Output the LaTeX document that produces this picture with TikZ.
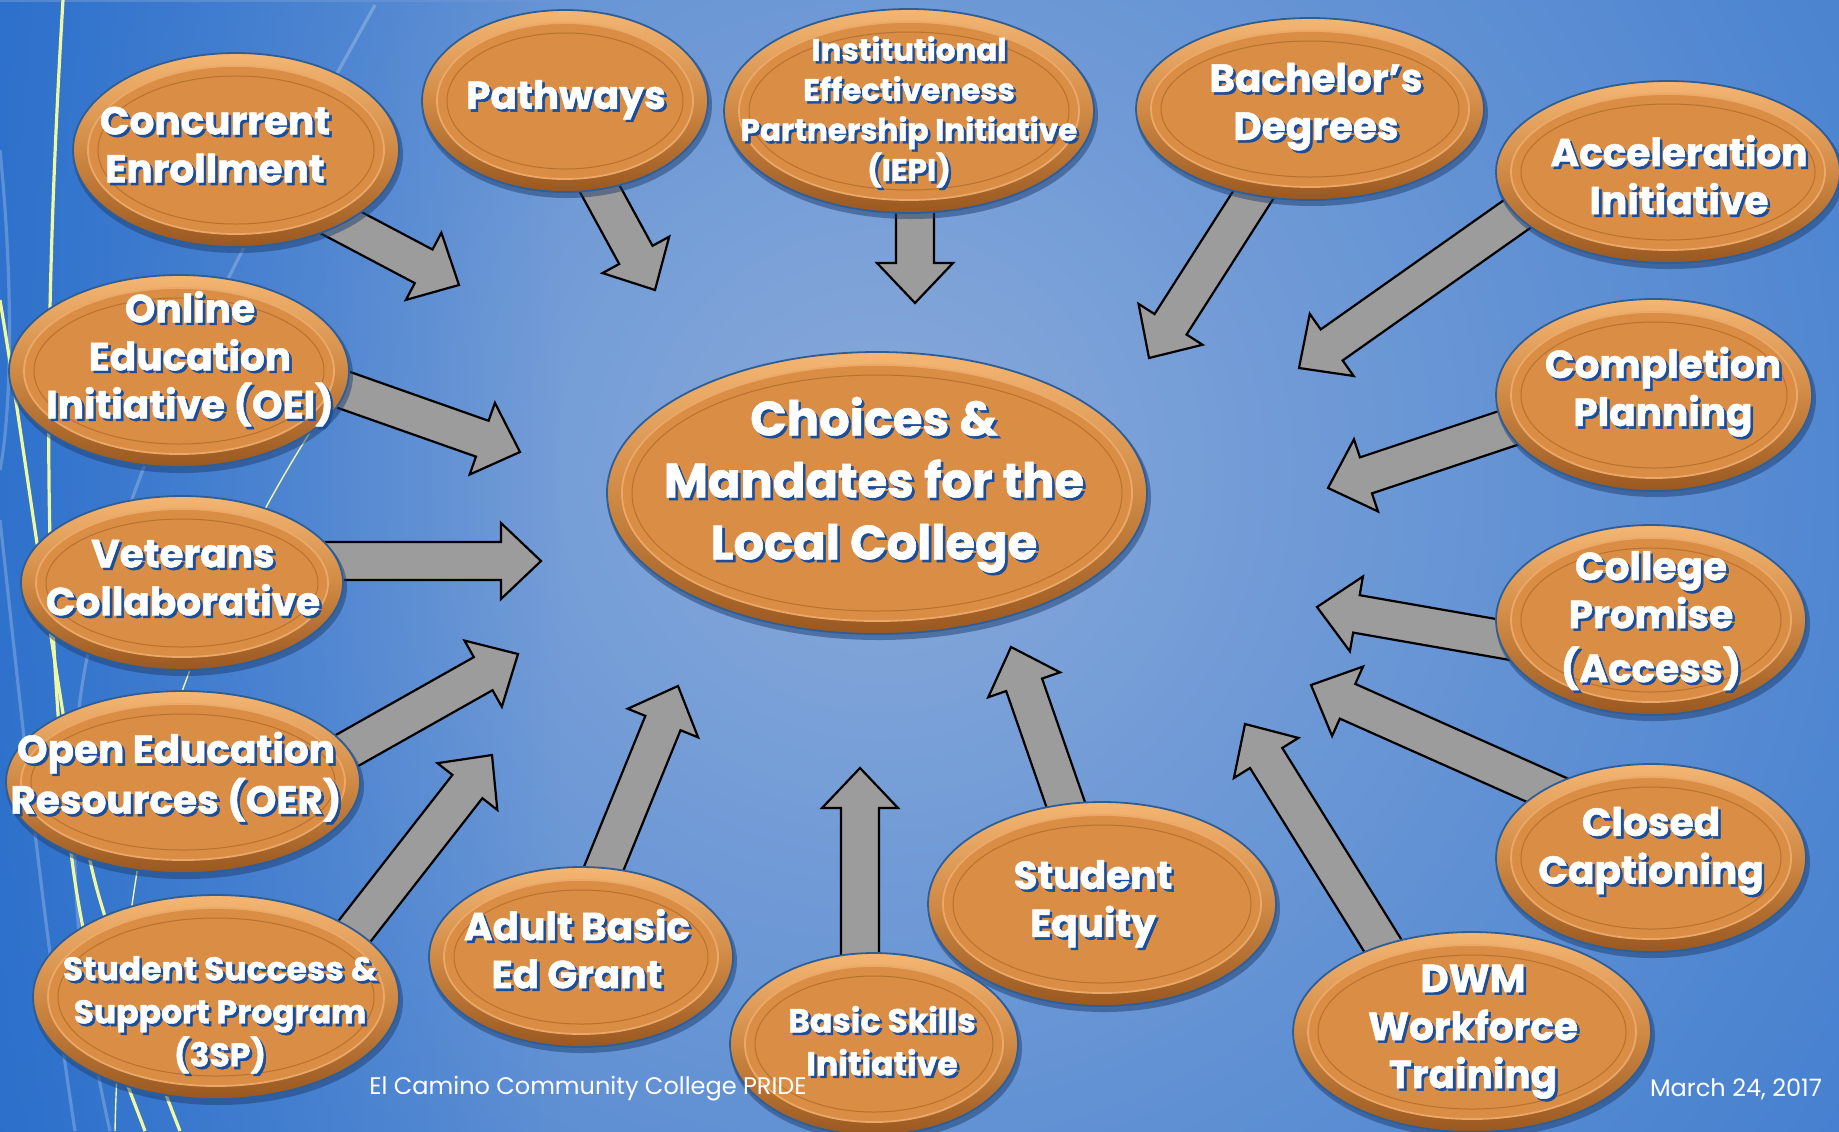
\documentclass[tikz,border=0pt]{standalone}
\usepackage{fontspec}
\setmainfont{Poppins}[BoldFeatures={FakeBold=1.3}]
\usetikzlibrary{calc,shapes.geometric,fadings}
\definecolor{bgin}{HTML}{88A9DA}
\definecolor{bgout}{HTML}{2A6FCB}
\definecolor{bgleft}{HTML}{1F68CA}
\definecolor{orangeface}{HTML}{D98D45}
\definecolor{rimtop}{HTML}{F4B673}
\definecolor{rimbot}{HTML}{9A5820}
\definecolor{rimmid}{HTML}{D08A45}
\definecolor{rimedge}{HTML}{2F5E96}
\definecolor{ringlight}{HTML}{EBA868}
\definecolor{ringdark}{HTML}{B8722F}
\definecolor{tshadow}{HTML}{1A4E9A}
\definecolor{arrowgray}{HTML}{9C9C9C}
\definecolor{wispyellow}{HTML}{EEF7A2}
\definecolor{discshade}{HTML}{1F3F70}

\pgfdeclarelayer{back}\pgfdeclarelayer{arrows}\pgfdeclarelayer{discs}
\pgfsetlayers{back,arrows,discs,main}

\tikzset{
  blockarr/.style={fill=arrowgray, draw=black, line width=1.1pt, line join=miter},
  disctext/.style={text=white, align=center, inner sep=0pt},
  wisp/.style={wispyellow, line width=1.6pt},
  wispthin/.style={wispyellow, line width=0.7pt},
  wispblue/.style={white, opacity=0.22, line width=1.6pt},
  foot/.style={text=white, font=\fontsize{12}{14}\selectfont, inner sep=0pt}
}

\newcommand\sh[1]{\leavevmode\rlap{\kern1.3pt\raisebox{-1.3pt}{\textcolor{tshadow}{#1}}}#1}
\newcommand\fnorm{\fontsize{19.5}{24}\selectfont\bfseries}
\newcommand\fsmall{\fontsize{15.5}{20}\selectfont\bfseries}
\newcommand\fmid{\fontsize{16.5}{21.5}\selectfont\bfseries}
\newcommand\fbig{\fontsize{24}{31}\selectfont\bfseries}

% disc: cx, cy, rx, ry
\newcommand\disc[4]{%
  \begin{pgfonlayer}{discs}
    \fill[discshade, opacity=0.5] (#1+2,#2+4) ellipse [x radius=#3+2, y radius=#4+2];
    \shade[top color=rimtop, bottom color=rimbot, middle color=rimmid] (#1,#2) ellipse [x radius=#3, y radius=#4];
    \draw[rimedge, line width=0.9pt] (#1,#2) ellipse [x radius=#3, y radius=#4];
    \fill[orangeface, draw=ringlight, line width=0.9pt] (#1,#2) ellipse [x radius=#3-15, y radius=#4-13];
    \draw[ringdark, line width=0.5pt] (#1,#2) ellipse [x radius=#3-25, y radius=#4-23];
  \end{pgfonlayer}}

% block arrow: tail, tip
\newcommand\blockarrow[2]{%
  \coordinate (hb) at ($(#2)!20pt!(#1)$);
  \draw[blockarr] ($(#1)!9.5pt!90:(#2)$) -- ($(hb)!9.5pt!90:(#2)$) -- ($(hb)!19pt!90:(#2)$)
    -- (#2) -- ($(hb)!19pt!-90:(#2)$) -- ($(hb)!9.5pt!-90:(#2)$) -- ($(#1)!9.5pt!-90:(#2)$) -- cycle;}

\begin{document}
\begin{tikzpicture}[x=0.5pt, y=-0.5pt]
\useasboundingbox (0,0) rectangle (1839,1131);

% background
\begin{pgfonlayer}{back}
  \begin{scope}
    \clip (0,0) rectangle (1839,1131);
    \fill[bgout] (0,0) rectangle (1839,1131);
    \shade[inner color=bgin, outer color=bgout] (880,470) circle (1650);
    \fill[bgleft, opacity=0.7, path fading=east] (0,0) rectangle (560,1131);
    \draw[wispblue] (375,5) .. controls (250,230) and (110,480) .. (80,700) .. controls (65,850) and (80,1000) .. (110,1131);
    \draw[wispblue] (0,520) .. controls (20,700) and (40,900) .. (75,1131);
    \draw[wispblue] (0,150) .. controls (15,300) and (10,420) .. (0,470);
    \draw[wisp] (63,0) .. controls (45,300) and (40,600) .. (72,860) .. controls (90,1000) and (130,1090) .. (145,1131);
    \draw[wisp] (0,300) .. controls (30,480) and (70,800) .. (100,900) .. controls (130,1000) and (160,1080) .. (180,1131);
    \draw[wispthin] (345,380) .. controls (260,500) and (190,650) .. (160,760) .. controls (130,880) and (118,1000) .. (115,1131);
  \end{scope}
\end{pgfonlayer}

% discs (back to front)
\disc{236}{150}{163}{97}
\disc{565}{101}{143}{91}
\disc{909}{111}{185}{102}
\disc{1310}{109}{174}{91}
\disc{1668}{172}{172}{91}
\disc{179}{371}{170}{96}
\disc{1654}{395}{158}{96}
\disc{182}{583}{161}{87}
\disc{1651}{620}{155}{95}
\disc{183}{782}{177}{91}
\disc{1651}{858}{155}{94}
\disc{216}{997}{183}{102}
\disc{581}{957}{152}{90}
\disc{1102}{904}{174}{102}
\disc{874}{1044}{144}{91}
\disc{1472}{1032}{179}{100}
\disc{877}{493}{270}{141}

% texts (nodes)
\node[disctext, font=\fbig] (hub) at (874,486) {\sh{Choices \&}\\\sh{Mandates for the}\\\sh{Local College}};
\node[disctext, font=\fnorm] (e1) at (215,146) {\sh{Concurrent}\\\sh{Enrollment}};
\node[disctext, font=\fnorm] (e2) at (566,101) {\sh{Pathways}};
\node[disctext, font=\fsmall] (e3) at (909,113) {\sh{Institutional}\\\sh{Effectiveness}\\\sh{Partnership Initiative}\\\sh{(IEPI)}};
\node[disctext, font=\fnorm] (e4) at (1316,108) {\sh{Bachelor’s}\\\sh{Degrees}};
\node[disctext, font=\fnorm] (e5) at (1679,176) {\sh{Acceleration}\\\sh{Initiative}};
\node[disctext, font=\fnorm] (e6) at (190,360) {\sh{Online}\\\sh{Education}\\\sh{Initiative (OEI)}};
\node[disctext, font=\fnorm] (e7) at (1663,393) {\sh{Completion}\\\sh{Planning}};
\node[disctext, font=\fnorm] (e8) at (183,579) {\sh{Veterans}\\\sh{Collaborative}};
\node[disctext, font=\fnorm] (e9) at (1651,622) {\sh{College}\\\sh{Promise}\\[3pt]\sh{(Access)}};
\node[disctext, font=\fnorm] (e10) at (176,778) {\sh{Open Education}\\\sh{Resources (OER)}};
\node[disctext, font=\fnorm] (e11) at (1651,852) {\sh{Closed}\\\sh{Captioning}};
\node[disctext, font=\fmid] (e12) at (220,1016) {\sh{Student Success \&}\\\sh{Support Program}\\\sh{(3SP)}};
\node[disctext, font=\fnorm] (e13) at (577,950) {\sh{Adult Basic}\\\sh{Ed Grant}};
\node[disctext, font=\fmid] (e14) at (882,1042) {\sh{Basic Skills}\\\sh{Initiative}};
\node[disctext, font=\fnorm] (e15) at (1093,905) {\sh{Student}\\\sh{Equity}};
\node[disctext, font=\fnorm] (e16) at (1473,1033) {\sh{DWM}\\\sh{Workforce}\\\sh{Training}};

% arrow tails (inside the discs) and tips
\coordinate (t1) at (300,201);   \coordinate (p1) at (459,285);
\coordinate (t2) at (583,158);   \coordinate (p2) at (655,290);
\coordinate (t3) at (915,180);   \coordinate (p3) at (915,303);
\coordinate (t4) at (1273,164);  \coordinate (p4) at (1149,358);
\coordinate (t5) at (1544,195);  \coordinate (p5) at (1299,368);
\coordinate (t6) at (313,379);   \coordinate (p6) at (520,452);
\coordinate (t7) at (1565,409);  \coordinate (p7) at (1328,488);
\coordinate (t8) at (300,561);   \coordinate (p8) at (541,561);
\coordinate (t9) at (1563,650);  \coordinate (p9) at (1317,607);
\coordinate (t10) at (300,777);  \coordinate (p10) at (518,654);
\coordinate (t11) at (1585,807); \coordinate (p11) at (1311,685);
\coordinate (t12) at (332,960);  \coordinate (p12) at (492,755);
\coordinate (t13) at (584,917);  \coordinate (p13) at (678,686);
\coordinate (t14) at (860,1000); \coordinate (p14) at (860,768);
\coordinate (t15) at (1103,912); \coordinate (p15) at (1011,647);
\coordinate (t16) at (1393,962); \coordinate (p16) at (1245,724);

\begin{pgfonlayer}{arrows}
  \blockarrow{t1}{p1}
  \blockarrow{t2}{p2}
  \blockarrow{t3}{p3}
  \blockarrow{t4}{p4}
  \blockarrow{t5}{p5}
  \blockarrow{t6}{p6}
  \blockarrow{t7}{p7}
  \blockarrow{t8}{p8}
  \blockarrow{t9}{p9}
  \blockarrow{t10}{p10}
  \blockarrow{t11}{p11}
  \blockarrow{t12}{p12}
  \blockarrow{t13}{p13}
  \blockarrow{t14}{p14}
  \blockarrow{t15}{p15}
  \blockarrow{t16}{p16}
\end{pgfonlayer}

% footer
\node[foot] (footl) at (588,1089) {El Camino Community College PRIDE};
\node[foot] (footr) at (1736,1089) {March 24, 2017};
\end{tikzpicture}
\end{document}
